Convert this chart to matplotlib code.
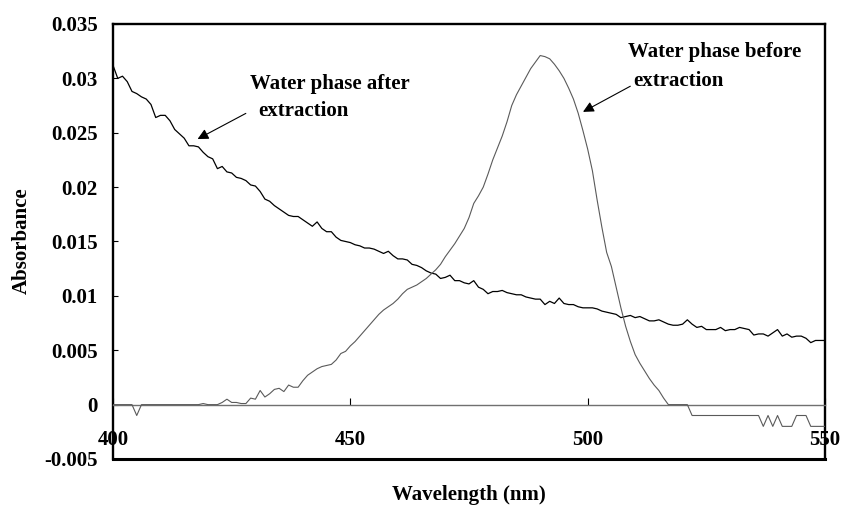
import matplotlib
matplotlib.use("Agg")
import matplotlib.pyplot as plt
import numpy as np

wavelength = list(range(400, 551))

after_extraction = [
    0.0312, 0.0300, 0.0302, 0.0297, 0.0288, 0.0286, 0.0283, 0.0281, 0.0276, 0.0264,
    0.0266, 0.0266, 0.0261, 0.0253, 0.0249, 0.0245, 0.0238, 0.0238, 0.0237, 0.0232,
    0.0228, 0.0226, 0.0217, 0.0219, 0.0214, 0.0213, 0.0209, 0.0208, 0.0206, 0.0202,
    0.0201, 0.0196, 0.0189, 0.0187, 0.0183, 0.0180, 0.0177, 0.0174, 0.0173, 0.0173,
    0.0170, 0.0167, 0.0164, 0.0168, 0.0162, 0.0159, 0.0159, 0.0154, 0.0151, 0.0150,
    0.0149, 0.0147, 0.0146, 0.0144, 0.0144, 0.0143, 0.0141, 0.0139, 0.0141, 0.0137,
    0.0134, 0.0134, 0.0133, 0.0129, 0.0128, 0.0126, 0.0123, 0.0121, 0.0120, 0.0116,
    0.0117, 0.0119, 0.0114, 0.0114, 0.0112, 0.0111, 0.0114, 0.0108, 0.0106, 0.0102,
    0.0104, 0.0104, 0.0105, 0.0103, 0.0102, 0.0101, 0.0101, 0.0099, 0.0098, 0.0097,
    0.0097, 0.0092, 0.0095, 0.0093, 0.0098, 0.0093, 0.0092, 0.0092, 0.0090, 0.0089,
    0.0089, 0.0089, 0.0088, 0.0086, 0.0085, 0.0084, 0.0083, 0.0080, 0.0081, 0.0082,
    0.0080, 0.0081, 0.0079, 0.0077, 0.0077, 0.0078, 0.0076, 0.0074, 0.0073, 0.0073,
    0.0074, 0.0078, 0.0074, 0.0071, 0.0072, 0.0069, 0.0069, 0.0069, 0.0071, 0.0068,
    0.0069, 0.0069, 0.0071, 0.0070, 0.0069, 0.0064, 0.0065, 0.0065, 0.0063, 0.0066,
    0.0069, 0.0063, 0.0065, 0.0062, 0.0063, 0.0063, 0.0061, 0.0057, 0.0059, 0.0059,
    0.0059,
]

before_extraction = [
    0.0, 0.0, 0.0, 0.0, 0.0, -0.001, 0.0, 0.0, 0.0, 0.0,
    0.0, 0.0, 0.0, 0.0, 0.0, 0.0, 0.0, 0.0, 0.0, 0.0001,
    0.0, 0.0, 0.0, 0.0002, 0.0005, 0.0002, 0.0002, 0.0001, 0.0001, 0.0006,
    0.0005, 0.0013, 0.0007, 0.0010, 0.0014, 0.0015, 0.0012, 0.0018, 0.0016, 0.0016,
    0.0022, 0.0027, 0.0030, 0.0033, 0.0035, 0.0036, 0.0037, 0.0041, 0.0047, 0.0049,
    0.0054, 0.0058, 0.0063, 0.0068, 0.0073, 0.0078, 0.0083, 0.0087, 0.0090, 0.0093,
    0.0097, 0.0102, 0.0106, 0.0108, 0.0110, 0.0113, 0.0116, 0.0120, 0.0124, 0.0129,
    0.0136, 0.0142, 0.0148, 0.0155, 0.0162, 0.0172, 0.0185, 0.0192, 0.0200, 0.0212,
    0.0225, 0.0236, 0.0247, 0.0260, 0.0275, 0.0285, 0.0293, 0.0301, 0.0309, 0.0315,
    0.0321, 0.0320, 0.0318, 0.0313, 0.0307, 0.0300, 0.0291, 0.0281, 0.0268, 0.0252,
    0.0235, 0.0215, 0.0188, 0.0163, 0.0140, 0.0127, 0.0108, 0.0089, 0.0072, 0.0058,
    0.0046, 0.0038, 0.0031, 0.0024, 0.0018, 0.0013, 0.0006, 0.0, 0.0, 0.0,
    0.0, 0.0, -0.001, -0.001, -0.001, -0.001, -0.001, -0.001, -0.001, -0.001,
    -0.001, -0.001, -0.001, -0.001, -0.001, -0.001, -0.001, -0.002, -0.001, -0.002,
    -0.001, -0.002, -0.002, -0.002, -0.001, -0.001, -0.001, -0.002, -0.002, -0.002,
    -0.002,
]

x_ticks = [400, 450, 500, 550]
x_tick_labels = ["400", "450", "500", "550"]
y_ticks = [-0.005, 0, 0.005, 0.01, 0.015, 0.02, 0.025, 0.03, 0.035]
y_tick_labels = ["-0.005", "0", "0.005", "0.01", "0.015", "0.02", "0.025", "0.03", "0.035"]

label_after = "Water phase after"
label_after2 = "extraction"
label_before = "Water phase before"
label_before2 = "extraction"

plt.rcParams['font.family'] = ['Liberation Serif', 'DejaVu Serif']
plt.rcParams['font.weight'] = 'bold'

fig = plt.figure(figsize=(8.44, 5.07), dpi=100)
W, H = 844, 507
ax = fig.add_axes([113 / W, 1 - 459 / H, 712 / W, 435 / H])

ax.plot(wavelength, after_extraction, color='black', lw=0.9, zorder=3)
ax.plot(wavelength, before_extraction, color='#5a5a5a', lw=0.8, zorder=3)

ax.set_xlim(400, 550)
ax.set_ylim(-0.005, 0.035)

# frame
for s in ['left', 'top', 'right']:
    ax.spines[s].set_linewidth(1.7)
    ax.spines[s].set_color('black')
ax.spines['bottom'].set_position(('data', 0))
ax.spines['bottom'].set_color('#707070')
ax.spines['bottom'].set_linewidth(1.0)
ax.axhline(-0.005, color='black', lw=2.2, clip_on=False, zorder=5)

ax.set_xticks(x_ticks)
ax.set_xticklabels(x_tick_labels, fontsize=15, fontweight='bold')
ax.set_yticks(y_ticks)
ax.set_yticklabels(y_tick_labels, fontsize=15, fontweight='bold')
ax.tick_params(axis='x', direction='in', length=5, width=0.8, pad=18.5, colors='black')
ax.tick_params(axis='y', direction='in', length=3.5, width=0.8, pad=11)

fig.text(469 / W, 1 - 495 / H, "Wavelength (nm)", ha='center', va='center',
         fontsize=15, fontweight='bold')
fig.text(22 / W, 1 - 241 / H, "Absorbance", ha='center', va='center',
         rotation=90, fontsize=15, fontweight='bold')

# annotations
ax.text(428.9, 0.0295, label_after, fontsize=15, fontweight='bold', va='center', ha='left')
ax.text(430.6, 0.0270, label_after2, fontsize=15, fontweight='bold', va='center', ha='left')
ax.annotate("", xy=(417.3, 0.0243), xytext=(428.5, 0.0269),
            arrowprops=dict(arrowstyle='-|>', color='black', lw=0.8, mutation_scale=16))

ax.text(508.4, 0.0324, label_before, fontsize=15, fontweight='bold', va='center', ha='left')
ax.text(509.5, 0.0298, label_before2, fontsize=15, fontweight='bold', va='center', ha='left')
ax.annotate("", xy=(498.5, 0.0268), xytext=(509.5, 0.0294),
            arrowprops=dict(arrowstyle='-|>', color='black', lw=0.8, mutation_scale=16))

fig.savefig("out.png", dpi=100)
